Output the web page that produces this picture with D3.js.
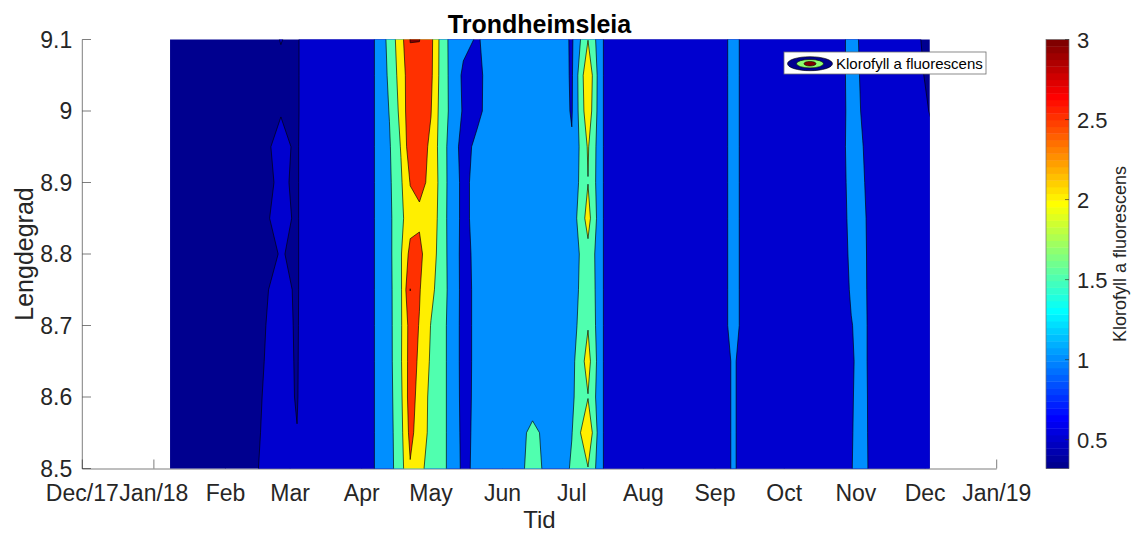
<!DOCTYPE html>
<html>
<head>
<meta charset="utf-8">
<script src="https://cdn.jsdelivr.net/npm/d3@7"></script>
<style>
  body { margin: 0; background: #fff; }
  svg { display: block; }
  text { font-family: "Liberation Sans", Arial, Helvetica, sans-serif; }
</style>
</head>
<body>
<svg id="chart" width="1132" height="533"></svg>
<script>
// ---- data -------------------------------------------------------------
// Longitude stations along the transect (degrees east)
const lonStations = [8.5, 8.55, 8.6, 8.65, 8.7, 8.75, 8.8, 8.85, 8.9, 8.95, 9.0, 9.05, 9.1];

// Sampling dates (one transect per date)
const sampleDates = [
  "2018-01-08", "2018-01-22", "2018-02-12", "2018-02-25", "2018-03-04", "2018-03-07",
  "2018-03-22", "2018-04-04", "2018-04-09", "2018-04-13", "2018-04-18", "2018-04-22",
  "2018-04-26", "2018-05-01", "2018-05-05", "2018-05-10", "2018-05-15", "2018-05-21",
  "2018-05-27", "2018-06-04", "2018-06-14", "2018-06-26", "2018-07-01", "2018-07-08",
  "2018-07-13", "2018-07-16", "2018-08-10", "2018-09-04", "2018-09-09", "2018-09-14",
  "2018-10-10", "2018-10-25", "2018-10-30", "2018-11-04", "2018-11-09", "2018-11-24",
  "2018-12-03"
];

// Chlorophyll a fluorescence, one row per sampling date, ordered as lonStations
const chlRows = [
  [0.36, 0.35, 0.35, 0.34, 0.34, 0.32, 0.32, 0.34, 0.34, 0.35, 0.35, 0.36, 0.36],
  [0.40, 0.39, 0.38, 0.38, 0.37, 0.37, 0.36, 0.37, 0.37, 0.38, 0.38, 0.38, 0.39],
  [0.473, 0.462, 0.452, 0.436, 0.42, 0.40, 0.40, 0.40, 0.40, 0.40, 0.40, 0.40, 0.40],
  [0.58, 0.58, 0.58, 0.58, 0.58, 0.57, 0.51, 0.56, 0.53, 0.55, 0.49, 0.47, 0.505],
  [0.53, 0.505, 0.485, 0.48, 0.475, 0.47, 0.47, 0.47, 0.47, 0.47, 0.46, 0.46, 0.46],
  [0.62, 0.61, 0.60, 0.60, 0.60, 0.60, 0.60, 0.60, 0.60, 0.60, 0.60, 0.60, 0.60],
  [0.72, 0.71, 0.70, 0.70, 0.70, 0.70, 0.70, 0.70, 0.70, 0.70, 0.70, 0.71, 0.71],
  [0.80, 0.80, 0.80, 0.80, 0.80, 0.80, 0.80, 0.80, 0.80, 0.80, 0.80, 0.80, 0.80],
  [1.20, 1.20, 1.20, 1.20, 1.20, 1.20, 1.20, 1.20, 1.20, 1.20, 1.20, 1.20, 1.20],
  [1.32, 1.33, 1.34, 1.35, 1.36, 1.37, 1.38, 1.40, 1.42, 1.45, 1.52, 1.60, 1.68],
  [1.82, 1.85, 1.90, 1.95, 1.94, 1.93, 1.96, 1.88, 1.93, 2.03, 2.15, 2.23, 2.30],
  [2.45, 2.65, 2.75, 2.72, 2.70, 3.01, 2.65, 2.30, 2.52, 2.80, 2.85, 2.80, 3.02],
  [2.10, 2.25, 2.30, 2.42, 2.48, 2.53, 2.58, 2.45, 2.56, 2.75, 2.80, 2.85, 3.01],
  [1.85, 1.88, 1.88, 1.93, 1.98, 2.12, 2.28, 2.38, 2.45, 2.40, 2.52, 2.60, 2.63],
  [1.75, 1.75, 1.75, 1.75, 1.75, 1.80, 1.80, 1.82, 1.85, 1.83, 1.85, 1.89, 1.90],
  [1.28, 1.28, 1.28, 1.28, 1.28, 1.30, 1.28, 1.25, 1.25, 1.25, 1.35, 1.32, 1.30],
  [0.90, 0.88, 0.86, 0.85, 0.85, 0.85, 0.85, 0.88, 0.88, 0.82, 0.95, 0.92, 1.12],
  [1.10, 1.10, 1.10, 1.10, 1.10, 1.10, 1.12, 1.15, 1.15, 1.12, 0.88, 0.90, 0.96],
  [1.20, 1.20, 1.20, 1.20, 1.20, 1.20, 1.20, 1.20, 1.20, 1.20, 1.20, 1.15, 1.15],
  [1.22, 1.22, 1.22, 1.22, 1.22, 1.22, 1.22, 1.22, 1.22, 1.22, 1.22, 1.22, 1.22],
  [1.65, 1.60, 1.30, 1.25, 1.25, 1.25, 1.25, 1.25, 1.25, 1.25, 1.25, 1.25, 1.25],
  [1.20, 1.20, 1.20, 1.20, 1.20, 1.20, 1.20, 1.20, 1.20, 1.20, 1.20, 1.20, 1.20],
  [1.58, 1.48, 1.42, 1.35, 1.28, 1.22, 1.20, 1.20, 1.15, 1.05, 0.96, 0.94, 0.93],
  [1.98, 2.45, 1.98, 2.20, 1.97, 1.90, 1.85, 2.20, 1.99, 2.05, 2.35, 2.45, 1.99],
  [1.25, 1.25, 1.25, 1.25, 1.25, 1.25, 1.25, 1.25, 1.25, 1.25, 1.25, 1.25, 1.25],
  [0.80, 0.80, 0.80, 0.80, 0.80, 0.80, 0.80, 0.80, 0.80, 0.80, 0.80, 0.80, 0.80],
  [0.75, 0.75, 0.75, 0.75, 0.75, 0.75, 0.75, 0.75, 0.75, 0.75, 0.75, 0.75, 0.75],
  [0.80, 0.80, 0.80, 0.80, 0.80, 0.80, 0.80, 0.80, 0.80, 0.80, 0.80, 0.80, 0.80],
  [1.06, 1.06, 1.06, 1.06, 1.20, 1.20, 1.20, 1.20, 1.20, 1.20, 1.20, 1.20, 1.20],
  [0.80, 0.80, 0.80, 0.80, 0.80, 0.80, 0.80, 0.80, 0.80, 0.80, 0.80, 0.80, 0.80],
  [0.72, 0.72, 0.72, 0.72, 0.72, 0.72, 0.72, 0.72, 0.72, 0.72, 0.72, 0.72, 0.72],
  [0.75, 0.75, 0.75, 0.75, 0.75, 0.75, 0.75, 0.75, 0.75, 0.75, 0.75, 0.75, 0.75],
  [0.98, 0.97, 0.96, 0.95, 0.98, 1.05, 1.10, 1.15, 1.20, 1.25, 1.22, 1.25, 1.25],
  [1.20, 1.18, 1.17, 1.15, 1.15, 1.13, 1.12, 1.10, 1.05, 1.01, 0.95, 0.90, 0.85],
  [0.75, 0.75, 0.75, 0.75, 0.75, 0.75, 0.75, 0.75, 0.75, 0.75, 0.75, 0.75, 0.75],
  [0.70, 0.70, 0.70, 0.70, 0.70, 0.70, 0.70, 0.70, 0.70, 0.70, 0.70, 0.70, 0.70],
  [0.60, 0.60, 0.60, 0.60, 0.60, 0.60, 0.60, 0.60, 0.60, 0.58, 0.49, 0.42, 0.35]
];

const contourLevels = [0.5, 1, 1.5, 2, 2.5, 3];
const colorLimits = [0.32, 3];

const monthTickDates = [
  "2017-12-01", "2018-01-01", "2018-02-01", "2018-03-01", "2018-04-01", "2018-05-01",
  "2018-06-01", "2018-07-01", "2018-08-01", "2018-09-01", "2018-10-01", "2018-11-01",
  "2018-12-01", "2019-01-01"
];
const monthTickLabels = ["Dec/17", "Jan/18", "Feb", "Mar", "Apr", "May", "Jun", "Jul",
                         "Aug", "Sep", "Oct", "Nov", "Dec", "Jan/19"];
const lonTicks = [8.5, 8.6, 8.7, 8.8, 8.9, 9.0, 9.1];
const lonTickLabels = ["8.5", "8.6", "8.7", "8.8", "8.9", "9", "9.1"];
const colorbarTicks = [0.5, 1, 1.5, 2, 2.5, 3];
const colorbarTickLabels = ["0.5", "1", "1.5", "2", "2.5", "3"];

// ---- layout -----------------------------------------------------------
const svg = d3.select("#chart");
const plot = { left: 82.3, right: 996.7, top: 39.5, bottom: 468.5 };
const cbar = { left: 1046, width: 23 };
const axisColor = "#262626";
const tickFont = 23;
const parseDay = d3.timeParse("%Y-%m-%d");

const x = d3.scaleTime()
  .domain([parseDay("2017-12-01"), parseDay("2019-01-01")])
  .range([plot.left, plot.right]);
const y = d3.scaleLinear().domain([8.5, 9.1]).range([plot.bottom, plot.top]);

// MATLAB-style jet colormap with 64 entries
const jetRamp = [];
for (let k = 1; k <= 16; k++) jetRamp.push(k / 16);
for (let k = 0; k < 15; k++) jetRamp.push(1);
for (let k = 16; k >= 1; k--) jetRamp.push(k / 16);
function jetEntry(i) {
  const pick = k => (k >= 0 && k < jetRamp.length ? jetRamp[k] : 0);
  const r = pick(i - 24), g = pick(i - 8), b = pick(i + 8);
  return d3.rgb(Math.round(r * 255), Math.round(g * 255), Math.round(b * 255)).formatHex();
}
function colorFor(v) {
  const t = (v - colorLimits[0]) / (colorLimits[1] - colorLimits[0]);
  return jetEntry(Math.max(0, Math.min(63, Math.floor(t * 64))));
}

// ---- axes (drawn beneath the filled contours) --------------------------
const axes = svg.append("g");
axes.append("line")
  .attr("x1", plot.left).attr("x2", plot.left)
  .attr("y1", plot.top).attr("y2", plot.bottom + 0.5)
  .attr("stroke", axisColor).attr("stroke-width", 0.6);
axes.append("line")
  .attr("x1", plot.left).attr("x2", plot.right)
  .attr("y1", plot.bottom + 0.5).attr("y2", plot.bottom + 0.5)
  .attr("stroke", axisColor).attr("stroke-width", 0.6);

lonTicks.forEach((v, i) => {
  axes.append("line")
    .attr("x1", plot.left).attr("x2", plot.left + 8.7)
    .attr("y1", y(v)).attr("y2", y(v))
    .attr("stroke", axisColor).attr("stroke-width", 0.6);
  axes.append("text")
    .attr("x", plot.left - 10).attr("y", y(v) + 8)
    .attr("text-anchor", "end").attr("font-size", tickFont).attr("fill", axisColor)
    .text(lonTickLabels[i]);
});

monthTickDates.forEach((d, i) => {
  const px = x(parseDay(d));
  axes.append("line")
    .attr("x1", px).attr("x2", px)
    .attr("y1", plot.bottom).attr("y2", plot.bottom - 9)
    .attr("stroke", axisColor).attr("stroke-width", 0.6);
  axes.append("text")
    .attr("x", px).attr("y", 500.5)
    .attr("text-anchor", "middle").attr("font-size", tickFont).attr("fill", axisColor)
    .text(monthTickLabels[i]);
});

// ---- filled contours ---------------------------------------------------
const nx = sampleDates.length, ny = lonStations.length;
const grid = new Array(nx * ny);
for (let j = 0; j < ny; j++) {
  for (let i = 0; i < nx; i++) grid[j * nx + i] = chlRows[i][j];
}
const xs = sampleDates.map(d => x(parseDay(d)));
const ys = lonStations.map(v => y(v));
function alongSamples(arr, f) {
  let k = Math.floor(f);
  k = Math.max(0, Math.min(arr.length - 2, k));
  return arr[k] + (f - k) * (arr[k + 1] - arr[k]);
}
const toScreen = d3.geoTransform({
  point(gx, gy) { this.stream.point(alongSamples(xs, gx - 0.5), alongSamples(ys, gy - 0.5)); }
});
const contourPath = d3.geoPath(toScreen);

const fillThresholds = [0, ...contourLevels];
const bands = d3.contours().size([nx, ny]).thresholds(fillThresholds)(grid);

svg.append("clipPath").attr("id", "dataClip")
  .append("rect")
  .attr("x", xs[0]).attr("y", plot.top)
  .attr("width", xs[nx - 1] - xs[0]).attr("height", plot.bottom - plot.top);

svg.append("g").attr("clip-path", "url(#dataClip)")
  .selectAll("path")
  .data(bands)
  .join("path")
  .attr("d", contourPath)
  .attr("fill-rule", "evenodd")
  .attr("fill", d => colorFor(d.value === 0 ? colorLimits[0] : d.value))
  .attr("stroke", d => (d.value === 0 ? "none" : "#000"))
  .attr("stroke-width", 0.65)
  .attr("stroke-linejoin", "round");

// ---- titles ------------------------------------------------------------
svg.append("text")
  .attr("x", (plot.left + plot.right) / 2).attr("y", 33)
  .attr("text-anchor", "middle").attr("font-size", 25).attr("font-weight", "bold")
  .attr("fill", "#000").text("Trondheimsleia");
svg.append("text")
  .attr("x", (plot.left + plot.right) / 2).attr("y", 528)
  .attr("text-anchor", "middle").attr("font-size", 24).attr("fill", axisColor)
  .text("Tid");
svg.append("text")
  .attr("transform", `translate(33,${(plot.top + plot.bottom) / 2}) rotate(-90)`)
  .attr("text-anchor", "middle").attr("font-size", 25).attr("fill", axisColor)
  .text("Lengdegrad");

// ---- legend ------------------------------------------------------------
const legend = svg.append("g");
legend.append("rect")
  .attr("x", 784).attr("y", 52).attr("width", 202).attr("height", 22)
  .attr("fill", "#fff").attr("stroke", "#6e6e6e").attr("stroke-width", 0.8);
legend.append("ellipse").attr("cx", 810).attr("cy", 63.7).attr("rx", 22.5).attr("ry", 7)
  .attr("fill", jetEntry(0)).attr("stroke", "#000").attr("stroke-width", 0.6);
legend.append("ellipse").attr("cx", 810).attr("cy", 63.7).attr("rx", 13.5).attr("ry", 4.2)
  .attr("fill", jetEntry(32)).attr("stroke", "#000").attr("stroke-width", 0.6);
legend.append("ellipse").attr("cx", 810).attr("cy", 63.7).attr("rx", 6).attr("ry", 2.3)
  .attr("fill", jetEntry(63)).attr("stroke", "#000").attr("stroke-width", 0.6);
legend.append("text")
  .attr("x", 836).attr("y", 68.5).attr("font-size", 15).attr("fill", "#000")
  .text("Klorofyll a fluorescens");

// ---- colorbar ----------------------------------------------------------
const yc = d3.scaleLinear().domain(colorLimits).range([plot.bottom, plot.top]);
const step = (colorLimits[1] - colorLimits[0]) / 64;
const cb = svg.append("g");
cb.selectAll("rect.band")
  .data(d3.range(64))
  .join("rect")
  .attr("class", "band")
  .attr("x", cbar.left).attr("width", cbar.width)
  .attr("y", i => yc(colorLimits[0] + (i + 1) * step))
  .attr("height", i => yc(colorLimits[0] + i * step) - yc(colorLimits[0] + (i + 1) * step) + 0.4)
  .attr("fill", i => jetEntry(i));
cb.append("rect")
  .attr("x", cbar.left).attr("y", plot.top)
  .attr("width", cbar.width).attr("height", plot.bottom - plot.top)
  .attr("fill", "none").attr("stroke", "#6e6e6e").attr("stroke-width", 0.7);
colorbarTicks.forEach((v, i) => {
  cb.append("line")
    .attr("x1", cbar.left + cbar.width - 4).attr("x2", cbar.left + cbar.width)
    .attr("y1", yc(v)).attr("y2", yc(v))
    .attr("stroke", axisColor).attr("stroke-width", 0.6);
  cb.append("text")
    .attr("x", cbar.left + cbar.width + 8).attr("y", yc(v) + 8)
    .attr("font-size", 22).attr("fill", axisColor)
    .text(colorbarTickLabels[i]);
});
cb.append("text")
  .attr("transform", `translate(1126,${(plot.top + plot.bottom) / 2}) rotate(-90)`)
  .attr("text-anchor", "middle").attr("font-size", 18).attr("fill", axisColor)
  .text("Klorofyll a fluorescens");
</script>
</body>
</html>
